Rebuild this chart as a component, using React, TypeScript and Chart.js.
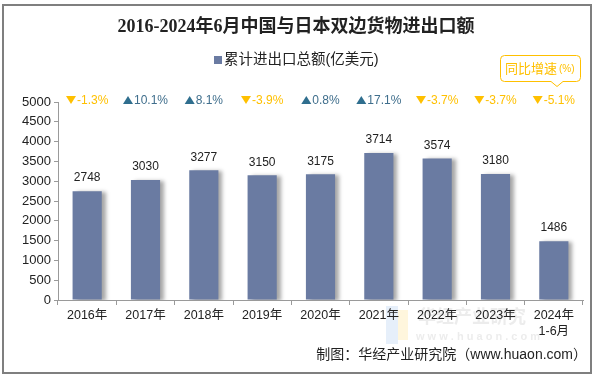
import React, { useEffect, useRef } from "react";
import { Chart, registerables } from "chart.js";

Chart.register(...registerables);

const categories: (string | string[])[] = ["2016年", "2017年", "2018年", "2019年", "2020年", "2021年", "2022年", "2023年", ["2024年", "1-6月"]];
const totals = [2748, 3030, 3277, 3150, 3175, 3714, 3574, 3180, 1486];
const growth = [-1.3, 10.1, 8.1, -3.9, 0.8, 17.1, -3.7, -3.7, -5.1];
const yTicks = [0, 500, 1000, 1500, 2000, 2500, 3000, 3500, 4000, 4500, 5000];

const TITLE = "2016-2024年6月中国与日本双边货物进出口额";
const LEGEND = "累计进出口总额(亿美元)";
const SOURCE = "制图：华经产业研究院（www.huaon.com）";

const BAR = "#6A7BA2";
const UP = "#2F6E8E";
const UP_TEXT = "#3F6E8C";
const DOWN = "#FFC000";
const SANS = "'Liberation Sans', Arial, 'Noto Sans CJK SC', sans-serif";

const shadowPlugin = {
  id: "barShadow",
  beforeDatasetsDraw(chart: any) {
    const ctx = chart.ctx;
    ctx.save();
    ctx.shadowColor = "rgba(0,0,0,0.35)";
    ctx.shadowOffsetX = 4;
    ctx.shadowOffsetY = 1;
    ctx.shadowBlur = 4;
  },
  afterDatasetsDraw(chart: any) {
    chart.ctx.restore();
  },
};

const decorPlugin = {
  id: "decor",
  beforeDraw(chart: any) {
    const ctx = chart.ctx;
    ctx.save();
    ctx.fillStyle = "#fff";
    ctx.fillRect(0, 0, chart.width, chart.height);
    // watermark
    ctx.fillStyle = "rgba(200,220,245,0.45)";
    ctx.fillRect(386, 306, 12, 38);
    ctx.fillStyle = "rgba(255,235,180,0.45)";
    ctx.fillRect(398, 310, 10, 30);
    ctx.fillStyle = "rgba(150,150,150,0.18)";
    ctx.font = `bold 18px ${SANS}`;
    ctx.textAlign = "left";
    ctx.textBaseline = "middle";
    ctx.fillText("华经产业研究", 418, 318);
    ctx.font = `bold 11px ${SANS}`;
    ctx.fillText("w w w . h u a o n . c o m", 416, 337);
    ctx.restore();
  },
  afterDraw(chart: any) {
    const ctx = chart.ctx;
    const xs = chart.scales.x;
    const ys = chart.scales.y;
    ctx.save();
    // border
    ctx.strokeStyle = "#7F7F7F";
    ctx.lineWidth = 2;
    ctx.strokeRect(3, 5, 588, 368);
    // title
    ctx.fillStyle = "#222";
    ctx.textAlign = "center";
    ctx.textBaseline = "middle";
    ctx.font = `bold 18px 'Liberation Serif', 'Noto Sans CJK SC', serif`;
    ctx.fillText(TITLE, 296, 27);
    // legend
    ctx.font = `14.5px ${SANS}`;
    ctx.fillStyle = BAR;
    ctx.fillRect(214, 56, 8, 8);
    ctx.fillStyle = "#222";
    ctx.textAlign = "left";
    ctx.fillText(LEGEND, 224, 60);
    // callout
    ctx.strokeStyle = DOWN;
    ctx.lineWidth = 1;
    ctx.fillStyle = "#fff";
    const bx = 500.5, by = 55.5, bw = 80, bh = 26, r = 4;
    ctx.beginPath();
    ctx.moveTo(bx + r, by);
    ctx.lineTo(bx + bw - r, by);
    ctx.arcTo(bx + bw, by, bx + bw, by + r, r);
    ctx.lineTo(bx + bw, by + bh - r);
    ctx.arcTo(bx + bw, by + bh, bx + bw - r, by + bh, r);
    ctx.lineTo(563, by + bh);
    ctx.lineTo(557, by + bh + 5);
    ctx.lineTo(551, by + bh);
    ctx.lineTo(bx + r, by + bh);
    ctx.arcTo(bx, by + bh, bx, by + bh - r, r);
    ctx.lineTo(bx, by + r);
    ctx.arcTo(bx, by, bx + r, by, r);
    ctx.closePath();
    ctx.fill();
    ctx.stroke();
    ctx.fillStyle = DOWN;
    ctx.font = `13px ${SANS}`;
    ctx.textAlign = "left";
    ctx.fillText("同比增速", 505, 69);
    ctx.font = `10px ${SANS}`;
    ctx.fillText("(%)", 559, 69);
    // growth row
    ctx.font = `12px ${SANS}`;
    growth.forEach((g, i) => {
      const cx = xs.getPixelForValue(i);
      const txt = g.toFixed(1) + "%";
      const tw = ctx.measureText(txt).width;
      const total = 11 + tw;
      const x0 = cx - total / 2;
      const y = 100;
      ctx.fillStyle = g >= 0 ? UP : DOWN;
      ctx.beginPath();
      if (g >= 0) {
        ctx.moveTo(x0, y + 4);
        ctx.lineTo(x0 + 10, y + 4);
        ctx.lineTo(x0 + 5, y - 4);
      } else {
        ctx.moveTo(x0, y - 4);
        ctx.lineTo(x0 + 10, y - 4);
        ctx.lineTo(x0 + 5, y + 4);
      }
      ctx.closePath();
      ctx.fill();
      ctx.fillStyle = g >= 0 ? UP_TEXT : DOWN;
      ctx.textAlign = "left";
      ctx.fillText(txt, x0 + 11, y + 0.5);
    });
    // value labels
    ctx.fillStyle = "#222";
    ctx.textAlign = "center";
    ctx.font = `12px ${SANS}`;
    totals.forEach((v, i) => {
      ctx.fillText(String(v), xs.getPixelForValue(i), ys.getPixelForValue(v) - 13);
    });
    // source
    ctx.textAlign = "right";
    ctx.font = `14px ${SANS}`;
    ctx.fillStyle = "#222";
    ctx.fillText(SOURCE, 587, 355);
    ctx.restore();
  },
};

export default function App() {
  const ref = useRef<HTMLCanvasElement>(null);
  useEffect(() => {
    if (!ref.current) return;
    const chart = new Chart(ref.current, {
      type: "bar",
      data: {
        labels: categories,
        datasets: [
          {
            label: LEGEND,
            data: totals,
            backgroundColor: BAR,
            barPercentage: 0.5,
            categoryPercentage: 1,
          },
        ],
      },
      options: {
        responsive: false,
        animation: false,
        layout: { padding: { top: 102, right: 13, left: 0, bottom: 0 } },
        plugins: {
          legend: { display: false },
          title: { display: false },
          tooltip: { enabled: false },
        },
        scales: {
          x: {
            grid: {
              display: true,
              drawOnChartArea: false,
              offset: true,
              tickLength: 5,
              color: "#9A9A9A",
            },
            border: { display: true, color: "#9A9A9A" },
            ticks: {
              color: "#222",
              font: { size: 12.5, family: SANS, lineHeight: 1.3 },
              maxRotation: 0,
              autoSkip: false,
              padding: 2,
            },
            afterFit(scale: any) {
              scale.height = 77;
            },
          },
          y: {
            min: 0,
            max: 5000,
            afterBuildTicks(scale: any) {
              scale.ticks = yTicks.map((v) => ({ value: v }));
            },
            grid: {
              display: true,
              drawOnChartArea: false,
              tickLength: 4,
              color: "#9A9A9A",
            },
            border: { display: true, color: "#9A9A9A" },
            ticks: {
              color: "#222",
              font: { size: 13, family: SANS },
              padding: 3,
              callback: (v: any) => String(v),
            },
            afterFit(scale: any) {
              scale.width = 58;
            },
          },
        },
      },
      plugins: [decorPlugin, shadowPlugin],
    });
    return () => chart.destroy();
  }, []);
  return (
    <div style={{ position: "fixed", left: 0, top: 0, width: 596, height: 377 }}>
      <canvas ref={ref} width={596} height={377} style={{ width: 596, height: 377 }} />
    </div>
  );
}
